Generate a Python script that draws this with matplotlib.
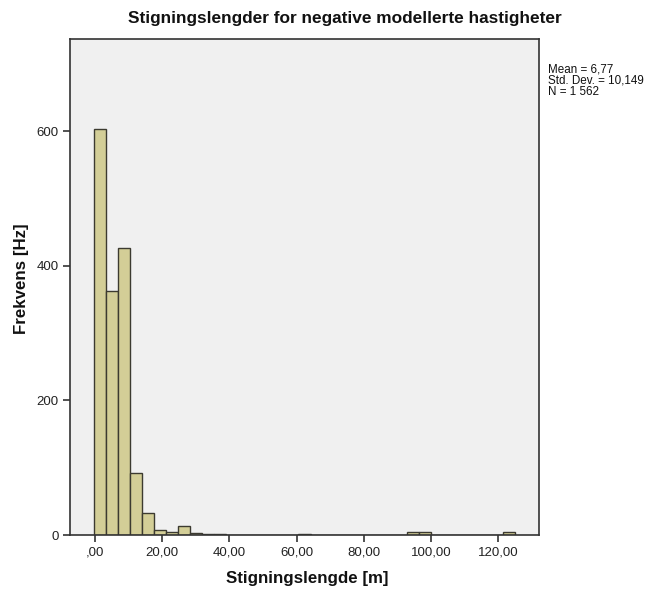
import numpy as np
import matplotlib
matplotlib.use("Agg")
import matplotlib.pyplot as plt

plt.rcParams['font.family'] = ['Liberation Sans', 'DejaVu Sans']

# Histogram of climb lengths (bin start, width, counts per bin)
bin_start = -0.3
bin_width = 3.58
counts = [603, 362, 427, 92, 33, 7, 5, 13, 3, 2, 1,
          0, 0, 0, 0, 0, 0, 2, 0, 0, 0, 0, 0, 0, 0, 0,
          4, 4, 0, 0, 0, 0, 0, 0, 4]

x_ticks = [0, 20, 40, 60, 80, 100, 120]
x_tick_labels = [",00", "20,00", "40,00", "60,00", "80,00", "100,00", "120,00"]
y_ticks = [0, 200, 400, 600]
y_tick_labels = ["0", "200", "400", "600"]

title = "Stigningslengder for negative modellerte hastigheter"
x_label = "Stigningslengde [m]"
y_label = "Frekvens [Hz]"
stats_lines = ["Mean = 6,77", "Std. Dev. = 10,149", "N = 1 562"]

W, H = 651, 589
fig = plt.figure(figsize=(W / 100, H / 100), dpi=100)
fig.patch.set_facecolor("white")

left, right, top, bottom = 70, 539, 39, 535
ax = fig.add_axes([left / W, 1 - bottom / H, (right - left) / W, (bottom - top) / H])
ax.set_facecolor("#F0F0F0")

edges = bin_start + bin_width * np.arange(len(counts))
ax.bar(edges, counts, width=bin_width, align="edge",
       color="#D3CE97", edgecolor="#3C3A30", linewidth=1.0, zorder=2)

ax.set_xlim(-7.5, 132.2)
ax.set_ylim(0, 737)
ax.set_xticks(x_ticks)
ax.set_xticklabels(x_tick_labels)
ax.set_yticks(y_ticks)
ax.set_yticklabels(y_tick_labels)
ax.tick_params(axis="both", direction="out", length=5, width=1.2,
               color="#333333", labelsize=9.5, labelcolor="#222222", pad=3)

for s in ax.spines.values():
    s.set_color("#333333")
    s.set_linewidth(1.2)

fig.text(345 / W, 1 - 18 / H, title, ha="center", va="center",
         fontsize=12.4, fontweight="bold", color="#111111")
fig.text(307 / W, 1 - 578 / H, x_label, ha="center", va="center",
         fontsize=12.2, fontweight="bold", color="#111111")
fig.text(22 / W, 1 - 279 / H, y_label, ha="center", va="center",
         rotation=90, fontsize=12.2, fontweight="bold", color="#111111")

# summary statistics block
fig.text(548 / W, 1 - 63 / H, "\n".join(stats_lines), ha="left", va="top",
         fontsize=8.4, color="#111111", linespacing=0.92)

fig.savefig("out.png", dpi=100, facecolor="white")
